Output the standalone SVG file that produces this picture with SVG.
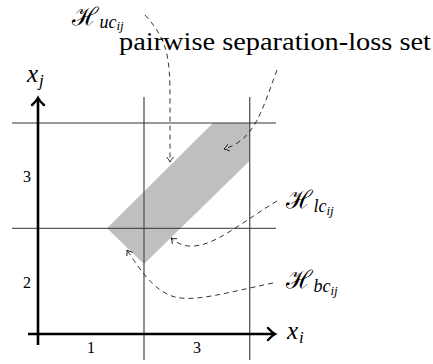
<svg xmlns="http://www.w3.org/2000/svg" width="433" height="364" viewBox="0 0 433 364">
<defs>
<style>
.grid-v{stroke:#555;stroke-width:1.3;fill:none}
.grid-h{stroke:#333;stroke-width:1;fill:none}
.axis{stroke:#000;stroke-width:2.6;fill:none}
.conn{stroke:#000;stroke-width:0.8;fill:none;stroke-dasharray:5,4}
text{font-family:"Liberation Serif","DejaVu Serif","Noto Serif",Tinos,"Times New Roman",FreeSerif,"Nimbus Roman",serif;fill:#000}
.num{font-size:16px}
.math{font-style:italic}
.txt{font-size:26px}
</style>
<marker id="ah" markerWidth="10" markerHeight="10" refX="0" refY="0" viewBox="-6 -5 8 10" orient="auto" markerUnits="userSpaceOnUse">
<path d="M-5,-3.5 Q-2,-0.8 0,0 Q-2,0.8 -5,3.5" fill="none" stroke="#000" stroke-width="0.8"/>
</marker>
<marker id="axh" markerWidth="14" markerHeight="16" refX="0" refY="0" viewBox="-9 -8 11 16" orient="auto" markerUnits="userSpaceOnUse">
<path d="M-7,-6 Q-3,-1.5 0,0 Q-3,1.5 -7,6" fill="none" stroke="#000" stroke-width="2.4" stroke-linecap="round"/>
</marker>
</defs>
<rect width="433" height="364" fill="#fff"/>
<g id="region">
<polygon points="213,123 249.7,123 249.7,160.7 144,264 107,228.3" fill="#bfbfbf"/>
</g>
<g id="grid">
<line class="grid-v" x1="144" y1="97" x2="144" y2="360"/>
<line class="grid-v" x1="249.7" y1="97" x2="249.7" y2="360"/>
<line class="grid-h" x1="12" y1="123" x2="276" y2="123"/>
<line class="grid-h" x1="12" y1="228.3" x2="276" y2="228.3"/>
</g>
<g id="axes">
<line class="axis" x1="38" y1="345" x2="38" y2="98" marker-end="url(#axh)"/>
<line class="axis" x1="28" y1="334" x2="275" y2="334" marker-end="url(#axh)"/>
</g>
<g id="ticks">
<text class="num" x="27" y="182" text-anchor="middle">3</text>
<text class="num" x="27" y="288" text-anchor="middle">2</text>
<text class="num" x="91" y="352.5" text-anchor="middle">1</text>
<text class="num" x="197" y="352.5" text-anchor="middle">3</text>
</g>
<g id="axis-labels">
<text class="math" x="27" y="82" font-size="25">x<tspan dx="1" dy="4" font-size="17">j</tspan></text>
<text class="math" x="287" y="339" font-size="25">x<tspan dx="1" dy="4" font-size="17">i</tspan></text>
</g>
<g id="label-set">
<text class="txt" x="119" y="50" textLength="312" lengthAdjust="spacingAndGlyphs">pairwise separation-loss set</text>
</g>
<g id="label-uc">
<text class="math" x="72" y="25" font-size="25">ℋ<tspan dx="1" dy="3" font-size="18">uc</tspan><tspan dy="2" font-size="13">ij</tspan></text>
</g>
<g id="label-lc">
<text class="math" x="286" y="208" font-size="25">ℋ<tspan dx="1" dy="4" font-size="18">lc</tspan><tspan dy="3" font-size="13">ij</tspan></text>
</g>
<g id="label-bc">
<text class="math" x="286" y="288" font-size="25">ℋ<tspan dx="1" dy="4" font-size="18">bc</tspan><tspan dy="3" font-size="13">ij</tspan></text>
</g>
<g id="connectors">
<path class="conn" d="M145,15 C168,40 170,58 170,100 L170,162" marker-end="url(#ah)"/>
<path class="conn" d="M277,70 C262,110 255,140 224,149" marker-end="url(#ah)"/>
<path class="conn" d="M277,201 C232,228 198,262 171,238" marker-end="url(#ah)"/>
<path class="conn" d="M273,283 C225,293 195,302 175,297 C155,292 140,270 127,250" marker-end="url(#ah)"/>
</g>
</svg>
